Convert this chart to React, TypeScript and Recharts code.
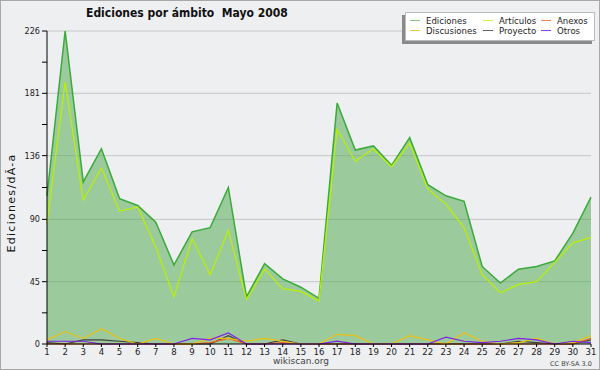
import React from 'react'
import { ComposedChart, Area, Line, XAxis, YAxis, CartesianGrid } from 'recharts'

const days = [1, 2, 3, 4, 5, 6, 7, 8, 9, 10, 11, 12, 13, 14, 15, 16, 17, 18, 19, 20, 21, 22, 23, 24, 25, 26, 27, 28, 29, 30, 31]
const ediciones = [107, 226, 117, 141, 105, 100, 88, 57, 81, 84, 113, 34, 58, 47, 41, 33, 174, 140, 143, 129, 149, 115, 107, 103, 56, 44, 54, 56, 60, 80, 106]
const articulos = [87, 189, 104, 127, 96, 99, 70, 34, 76, 50, 82, 32, 54, 40, 38, 31, 155, 132, 141, 128, 145, 112, 101, 84, 50, 37, 43, 45, 59, 73, 77]
const discusiones = [3, 9, 4, 11, 4, 0, 4, 0, 0, 4, 4, 2, 4, 2, 0, 0, 7, 6, 0, 0, 6, 3, 0, 8, 2, 0, 1, 4, 0, 1, 6]
const otros = [2, 2, 2, 0, 0, 0, 0, 0, 4, 3, 8, 0, 0, 0, 0, 0, 2, 0, 0, 0, 0, 0, 5, 2, 1, 2, 4, 3, 0, 2, 1]
const proyecto = [1, 0, 3, 3, 2, 1, 0, 0, 0, 0, 6, 0, 0, 3, 0, 0, 0, 0, 0, 0, 0, 0, 0, 0, 0, 0, 2, 1, 0, 0, 3]
const anexos = [0, 0, 0, 0, 0, 0, 0, 0, 0, 1, 4, 0, 0, 1, 0, 0, 0, 0, 0, 0, 0, 0, 0, 0, 0, 0, 0, 0, 0, 0, 4]

const majorTicks = [0, 45, 90, 136, 181, 226]
const yTicks = [0, 22.5, 45, 67.5, 90, 113, 136, 158.5, 181, 203.5, 226]

const data = days.map((d, i) => ({
  day: d,
  ediciones: ediciones[i],
  articulos: articulos[i],
  discusiones: discusiones[i],
  otros: otros[i],
  proyecto: proyecto[i],
  anexos: anexos[i],
}))

const FONT = '"DejaVu Sans", Verdana, sans-serif'
const COND = '"DejaVu Sans Condensed", "DejaVu Sans", sans-serif'

const legendItems = [
  { name: 'Ediciones', color: '#7fcf7f' },
  { name: 'Artículos', color: '#c8f040' },
  { name: 'Anexos', color: '#f08050' },
  { name: 'Discusiones', color: '#f0c840' },
  { name: 'Proyecto', color: '#606060' },
  { name: 'Otros', color: '#9040f0' },
]

const YTick = (props: any) => {
  const { x, y, payload } = props
  if (!majorTicks.includes(payload.value)) return null
  return (
    <text x={x} y={y} dy={3} textAnchor="end" fontSize={9} fill="#222" fontFamily={COND} style={{ fontStretch: 'condensed' }}>
      {payload.value}
    </text>
  )
}

export default function App() {
  return (
    <div style={{ position: 'absolute', left: 0, top: 0, width: 600, height: 370, background: '#eeeff1', boxSizing: 'border-box', border: '1px solid #a8a8a8', fontFamily: FONT }}>
      <div style={{ position: 'absolute', left: -1, top: -1 }}>
        <ComposedChart width={600} height={370} data={data} margin={{ top: 31, right: 9, left: 0, bottom: 0 }}>
          <CartesianGrid vertical={false} horizontalValues={[45, 90, 136, 181, 226]} stroke="#c6c7c9" />
          <XAxis
            dataKey="day"
            type="number"
            domain={[1, 31]}
            ticks={days}
            interval={0}
            height={26}
            tickSize={3}
            tickMargin={1}
            stroke="#000"
            tick={{ fontSize: 9.5, fill: '#222', fontFamily: COND, style: { fontStretch: 'condensed' } }}
          />
          <YAxis
            type="number"
            domain={[0, 226]}
            ticks={yTicks}
            interval={0}
            width={47}
            tickSize={5}
            tickMargin={2}
            stroke="#000"
            tick={<YTick />}
          />
          <Area dataKey="ediciones" type="linear" fill="#48a848" fillOpacity={0.5} stroke="#3aaa3a" strokeWidth={1.5} isAnimationActive={false} dot={false} />
          <Line dataKey="articulos" type="linear" stroke="#bbf000" strokeWidth={1.2} dot={false} isAnimationActive={false} />
          <Line dataKey="proyecto" type="linear" stroke="#404040" strokeWidth={1.2} dot={false} isAnimationActive={false} />
          <Line dataKey="anexos" type="linear" stroke="#f06020" strokeWidth={1.2} dot={false} isAnimationActive={false} />
          <Line dataKey="discusiones" type="linear" stroke="#f0c010" strokeWidth={1.2} dot={false} isAnimationActive={false} />
          <Line dataKey="otros" type="linear" stroke="#8020e8" strokeWidth={1.2} dot={false} isAnimationActive={false} />
        </ComposedChart>
      </div>
      <div style={{ position: 'absolute', left: 85, top: 5, fontSize: 12, fontWeight: 'bold', color: '#111', whiteSpace: 'pre', fontFamily: COND, fontStretch: 'condensed' }}>
        {'Ediciones por ámbito  Mayo 2008'}
      </div>
      <div style={{ position: 'absolute', left: 10, top: 202, transform: 'translate(-50%, -50%) rotate(-90deg)', fontSize: 11, letterSpacing: 1.3, color: '#111', whiteSpace: 'nowrap' }}>
        Ediciones/dÃ-a
      </div>
      <div style={{ position: 'absolute', left: 404, top: 11, width: 188, height: 27, background: '#fff', border: '1px solid #bbb', boxShadow: '-3px 3px 0 #8a8a8a', fontSize: 9.5, color: '#222', fontFamily: COND, fontStretch: 'condensed' }}>
        {legendItems.map((it, i) => {
          const col = i % 3
          const row = Math.floor(i / 3)
          const lefts = [4, 77, 135]
          return (
            <div key={it.name} style={{ position: 'absolute', left: lefts[col], top: 2 + row * 10, height: 11, lineHeight: '11px', whiteSpace: 'nowrap' }}>
              <span style={{ position: 'absolute', left: 0, top: 5, width: 10, height: 1, background: it.color }} />
              <span style={{ marginLeft: 16 }}>{it.name}</span>
            </div>
          )
        })}
      </div>
      <div style={{ position: 'absolute', left: 0, width: 600, top: 355, textAlign: 'center', fontSize: 9, color: '#444' }}>
        wikiscan.org
      </div>
      <div style={{ position: 'absolute', left: 549, top: 359, fontSize: 6.5, color: '#444', whiteSpace: 'nowrap' }}>
        CC BY-SA 3.0
      </div>
    </div>
  )
}
